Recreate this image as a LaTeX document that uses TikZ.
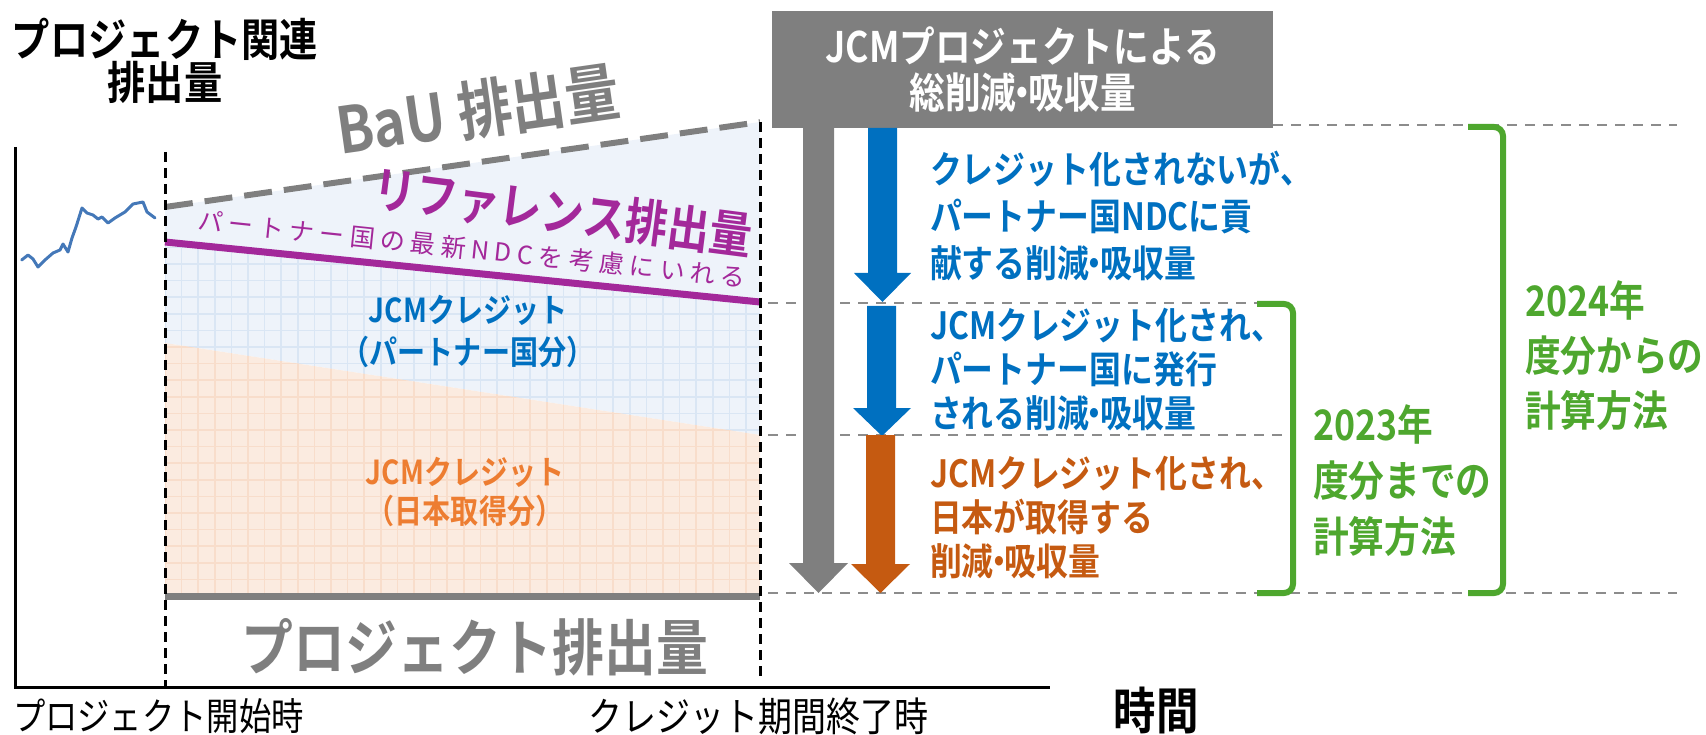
\documentclass[tikz,border=0pt]{standalone}
\usepackage{fontspec}
\setmainfont{Noto Sans CJK JP}[FakeStretch=0.85, BoldFont={Noto Sans CJK JP Bold}]
\newfontfamily\jpthin{Noto Sans CJK JP}[LetterSpace=22]
\newcommand\nkg{\kern-0.28em・\kern-0.28em}
\definecolor{jblue}{HTML}{0070C0}
\definecolor{jorange}{HTML}{C55A11}
\definecolor{lorange}{HTML}{ED7D31}
\definecolor{jgreen}{HTML}{4EA72E}
\definecolor{jpurple}{HTML}{A3289A}
\definecolor{boxgray}{HTML}{7F7F7F}
\definecolor{dashgray}{HTML}{8C8C8C}
\definecolor{bgblue}{HTML}{EEF3FA}
\definecolor{gridblue}{HTML}{DAE6F4}
\definecolor{bgorange}{HTML}{FBEBE0}
\definecolor{gridorange}{HTML}{F8DDCB}
\definecolor{histblue}{HTML}{4478B8}
\tikzset{
  lbl/.style={inner sep=0pt, outer sep=0pt},
  sidetxt/.style={lbl, anchor=west, align=left, font=\bfseries\fontsize{37.5}{44}\selectfont},
  greentxt/.style={lbl, anchor=west, align=left, text=jgreen, font=\bfseries\fontsize{42}{56}\selectfont},
  guide/.style={dashgray, line width=2.5pt, dash pattern=on 10pt off 8pt},
  timeline/.style={black, line width=3pt, dash pattern=on 10pt off 6pt},
  bracket/.style={jgreen, line width=6pt, rounded corners=9pt},
}
\begin{document}
\begin{tikzpicture}[x=1pt,y=-1pt]
\useasboundingbox (0,0) rectangle (1706,735);
% chart areas
\fill[bgblue] (165,207) -- (760,122) -- (760,435) -- (165,343) -- cycle;
\fill[bgorange] (165,343) -- (760,435) -- (760,596) -- (165,596) -- cycle;
\begin{scope}
\clip (165,242) -- (760,302) -- (760,435) -- (165,343) -- cycle;
\foreach \i in {0,...,37} \draw[gridblue, line width=1.5pt] ({165+\i*16.6},100) -- ({165+\i*16.6},600);
\foreach \j in {0,...,30} \draw[gridblue, line width=1.5pt] (160,{596-\j*16.6}) -- (770,{596-\j*16.6});
\end{scope}
\begin{scope}
\clip (165,343) -- (760,435) -- (760,596) -- (165,596) -- cycle;
\foreach \i in {0,...,37} \draw[gridorange, line width=1.5pt] ({165+\i*16.6},100) -- ({165+\i*16.6},600);
\foreach \j in {0,...,30} \draw[gridorange, line width=1.5pt] (160,{596-\j*16.6}) -- (770,{596-\j*16.6});
\end{scope}
% lines
\draw[boxgray, line width=6pt, dash pattern=on 28pt off 12pt] (165,207) -- (760,122);
\draw[jpurple, line width=7pt] (165,242) -- (760,302);
\draw[boxgray, line width=7pt] (165,596) -- (760,596);
\draw[timeline] (165,152) -- (165,687);
\draw[timeline] (760,122) -- (760,678);
\draw[black, line width=3pt] (15,147) -- (15,687) -- (1050,687);
\draw[histblue, line width=3pt, line join=round, line cap=round] plot coordinates {(21.7,260) (28,255) (33,259) (38,267) (45,260) (53,253) (60,250) (63,244) (68,252) (72,238) (76,227) (82,208) (87,213) (93,215) (98,219) (102,217) (108,223) (115,218) (125,212) (133,204) (143,202) (147,212) (155,218)};
% guides
\draw[guide] (1273,125) -- (1677,125);
\draw[guide] (768,303) -- (1285,303);
\draw[guide] (768,435) -- (1285,435);
\draw[guide] (768,593) -- (1677,593);
% box
\node[lbl, fill=boxgray, minimum width=501pt, minimum height=117pt, text=white, align=center, font=\bfseries\fontsize{42}{46}\selectfont] (box) at (1022.5,69.5) {JCMプロジェクトによる\\総削減\nkg 吸収量};
% block arrows
\fill[boxgray] (803,128) -- (834,128) -- (834,563) -- (848,563) -- (818.5,593) -- (789,563) -- (803,563) -- cycle;
\fill[jblue] (868,128) -- (897,128) -- (897,273) -- (911,273) -- (882.5,302) -- (854,273) -- (868,273) -- cycle;
\fill[jblue] (867,306) -- (896,306) -- (896,408) -- (911,408) -- (882,436) -- (853,408) -- (867,408) -- cycle;
\fill[jorange] (866,435) -- (895,435) -- (895,564) -- (910,564) -- (880.5,593) -- (851,564) -- (866,564) -- cycle;
% brackets
\draw[bracket] (1257,304) -| (1293,593) -- (1257,593);
\draw[bracket] (1468,127) -| (1503,593) -- (1468,593);
% texts
\node[lbl, align=center, font=\bfseries\fontsize{45}{43}\selectfont] (title) at (165,61) {プロジェクト関連\\排出量};
\node[lbl, rotate=8.1, text=boxgray, font=\bfseries\fontsize{64}{64}\selectfont] (bau) at (478,110) {BaU 排出量};
\node[lbl, rotate=-7.3, text=jpurple, font=\bfseries\fontsize{50}{50}\selectfont] (ref) at (563,212) {リファレンス排出量};
\node[lbl, rotate=-6, text=jpurple, font=\jpthin\fontsize{25}{25}\selectfont] (ndc) at (472,249) {パートナー国の最新NDCを考慮にいれる};
\node[lbl, align=center, text=jblue, font=\bfseries\fontsize{33}{42}\selectfont] (jcmp) at (468,331) {JCMクレジット\\（パートナー国分）};
\node[lbl, align=center, text=lorange, font=\bfseries\fontsize{33}{39}\selectfont] (jcmj) at (465,492) {JCMクレジット\\（日本取得分）};
\node[lbl, text=boxgray, font=\bfseries\fontsize{61}{61}\selectfont] (proj) at (475,647) {プロジェクト排出量};
\node[lbl, anchor=west, font=\fontsize{38}{38}\selectfont] (start) at (13,716) {プロジェクト開始時};
\node[lbl, anchor=west, font=\fontsize{40}{40}\selectfont] (end) at (588,716) {クレジット期間終了時};
\node[lbl, font=\bfseries\fontsize{50}{50}\selectfont] (time) at (1156,710) {時間};
\node[sidetxt, text=jblue, font=\bfseries\fontsize{37.5}{47}\selectfont] (t1) at (930,216) {クレジット化されないが、\\パートナー国NDCに貢\\献する削減\nkg 吸収量};
\node[sidetxt, text=jblue] (t2) at (930,370) {JCMクレジット化され、\\パートナー国に発行\\される削減\nkg 吸収量};
\node[sidetxt, text=jorange] (t3) at (930,518) {JCMクレジット化され、\\日本が取得する\\削減\nkg 吸収量};
\node[greentxt] (g23) at (1313,481) {2023年\\度分までの\\計算方法};
\node[greentxt, font=\bfseries\fontsize{42}{55}\selectfont] (g24) at (1525,356) {2024年\\度分からの\\計算方法};
\end{tikzpicture}
\end{document}
